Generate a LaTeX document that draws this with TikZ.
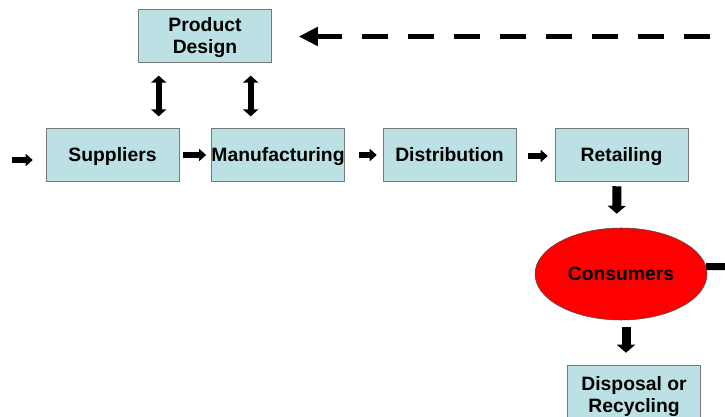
\documentclass[tikz,border=0pt]{standalone}
\usepackage{fontspec}
\setmainfont{Liberation Sans}
\usepackage{xcolor}
\usetikzlibrary{arrows.meta,shapes.geometric,calc}
\definecolor{boxfill}{RGB}{188,225,228}
\definecolor{boxline}{RGB}{120,120,120}

\begin{document}
\begin{tikzpicture}[x=0.75pt,y=-0.75pt,
  box/.style={draw=boxline,fill=boxfill,minimum width=99.75pt,minimum height=39.75pt,inner sep=0pt,align=center,font=\bfseries\fontsize{14.5}{16.2}\selectfont},
  one/.style={text height=10.4pt,text depth=0pt},
  small/.style={line width=4.5pt,-{Triangle[length=5.25pt,width=9pt]}},
  dbl/.style={line width=4.5pt,{Triangle[length=5.25pt,width=11.25pt]}-{Triangle[length=5.25pt,width=11.25pt]}},
  down/.style={line width=6.75pt,-{Triangle[length=6pt,width=13.5pt]}},
  back/.style={line width=3.75pt,dash pattern=on 19.5pt off 15pt,dash phase=23.25pt,-{Triangle[length=14.25pt,width=13.5pt]}}]
\useasboundingbox (0,0) rectangle (725,417);
\node[box,text depth=0pt] (pd) at (205,35.5) {Product\\Design};
\node[box,one] (sup) at (112.5,154.5) {Suppliers};
\node[box,one] (man) at (278,154.5) {Manufacturing};
\node[box,one] (dist) at (449.5,154.5) {Distribution};
\node[box,one] (ret) at (621.5,154.5) {Retailing};
\node[ellipse,draw=black!70,fill=red,minimum width=129pt,minimum height=69pt,font=\bfseries\fontsize{14.5}{16.2}\selectfont,text height=10.4pt,text depth=0pt] (cons) at (621,274) {Consumers};
\node[box,minimum height=44.25pt,text depth=0pt] (disp) at (634,394.5) {Disposal or\\Recycling};
\coordinate (in) at (12,160);
\coordinate (fb) at (725,36.5);
\coordinate (cr) at (725,266.6);
\draw[small,shorten >=9.75pt] (in) -- (in -| sup.west);
\draw[small,shorten <=3pt,shorten >=3.75pt] ($(sup.east)+(0,0.5)$) -- ($(man.west)+(0,0.5)$);
\draw[small,shorten <=10.5pt,shorten >=4.5pt] ($(man.east)+(0,0.5)$) -- ($(dist.west)+(0,0.5)$);
\draw[small,shorten <=9pt,shorten >=5.25pt] ($(dist.east)+(0,1.5)$) -- ($(ret.west)+(0,1.5)$);
\draw[dbl,shorten <=10pt,shorten >=8.5pt] ($(pd.south west)+(20.5,0)$) -- ($(pd.south west |- sup.north)+(20.5,0)$);
\draw[dbl,shorten <=10pt,shorten >=8.5pt] ($(pd.south west)+(112.5,0)$) -- ($(pd.south west |- man.north)+(112.5,0)$);
\draw[down,shorten <=3.75pt,shorten >=10.5pt] ($(ret.south)+(-4.5,0)$) -- ($(cons.north)+(-4.5,0)$);
\draw[down,shorten <=5.25pt,shorten >=9pt] ($(cons.south)+(5,0)$) -- ($(cons.south |- disp.north)+(5,0)$);
\draw[back,shorten >=20.25pt] (fb) -- (pd.east |- fb);
\draw[line width=5.25pt] (cons.5) -- (cr);
\end{tikzpicture}
\end{document}
